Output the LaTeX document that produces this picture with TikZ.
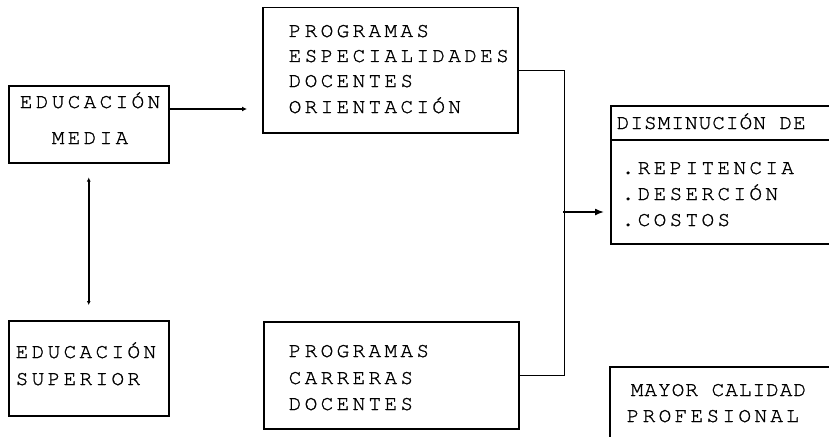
\documentclass[tikz,border=0pt]{standalone}
\usepackage{fontspec}
\usetikzlibrary{arrows.meta}
\newfontfamily\maqfamily{texgyrecursor-regular.otf}[LetterSpace=16, FakeBold=1.2]
\newfontfamily\maqfamilyb{texgyrecursor-regular.otf}[LetterSpace=5, FakeBold=1.2]
\newcommand{\maqfont}{\maqfamily\fontsize{21}{25}\selectfont}
\newcommand{\maqfontb}{\maqfamilyb\fontsize{21}{25}\selectfont}

\begin{document}
\begin{tikzpicture}[x=1pt, y=-1pt, line width=1.5pt]
	\tikzstyle{caja} = [rectangle, draw, inner sep=0pt, anchor=north west]
	\tikzstyle{letra} = [inner sep=0pt, anchor=base west, font=\maqfont]

	\clip (0, 0) rectangle (829, 436);

	\node[caja, minimum width=160pt, minimum height=77pt] (em) at (8, 85) {};
	\node[caja, minimum width=160pt, minimum height=95pt] (es) at (8, 320) {};
	\node[caja, minimum width=255pt, minimum height=125pt] (pa) at (262, 7) {};
	\node[caja, minimum width=255pt, minimum height=107pt] (pb) at (263, 321) {};
	\node[caja, minimum width=240pt, minimum height=34pt] (dis-head) at (610, 105) {};
	\node[caja, minimum width=240pt, minimum height=104pt] (dis-body) at (610, 139) {};
	\node[caja, minimum width=240pt, minimum height=100pt] (may) at (609, 366) {};

	\foreach \index/\ypos/\txt in {1/108/EDUCACIÓN, 2/144/MEDIA} {
		\node[letra, anchor=base] (em-\index) at (90, \ypos) {\txt};
	}

	\foreach \index/\ypos/\txt in {1/358/EDUCACIÓN, 2/385/SUPERIOR} {
		\node[letra] (es-\index) at (15, \ypos) {\txt};
	}

	\foreach \index/\ypos/\txt in {1/37/PROGRAMAS, 2/62/ESPECIALIDADES, 3/87/DOCENTES, 4/113/ORIENTACIÓN} {
		\node[letra] (pa-\index) at (288, \ypos) {\txt};
	}

	\foreach \index/\ypos/\txt in {1/357/PROGRAMAS, 2/384/CARRERAS, 3/410/DOCENTES} {
		\node[letra] (pb-\index) at (288, \ypos) {\txt};
	}

	\node[letra, font=\maqfontb] (dis-0) at (616, 129) {DISMINUCIÓN DE};
	\foreach \index/\ypos/\txt in {1/174/.REPITENCIA, 2/200/.DESERCIÓN, 3/226/.COSTOS} {
		\node[letra] (dis-\index) at (621, \ypos) {\txt};
	}

	\node[letra, font=\maqfontb] (may-1) at (630, 396) {MAYOR CALIDAD};
	\node[letra] (may-2) at (626, 422) {PROFESIONAL};

	\coordinate (em-out) at (247, 109);
	\coordinate (junta) at (563, 212);

	\draw[-{Latex[length=5pt, width=5pt]}] (em.east |- em-out) -- (em-out);
	\draw[{Latex[length=4pt, width=4pt]}-{Latex[length=4pt, width=4pt]}] ([yshift=-14pt]em.south) -- ([yshift=15pt]es.north);
	\draw (pa.east) -- ++(46, 0) |- (pb.east);
	\draw[-{Latex[length=9pt, width=7pt]}, shorten >=6pt] (junta) -- (junta -| dis-body.west);
\end{tikzpicture}
\end{document}
